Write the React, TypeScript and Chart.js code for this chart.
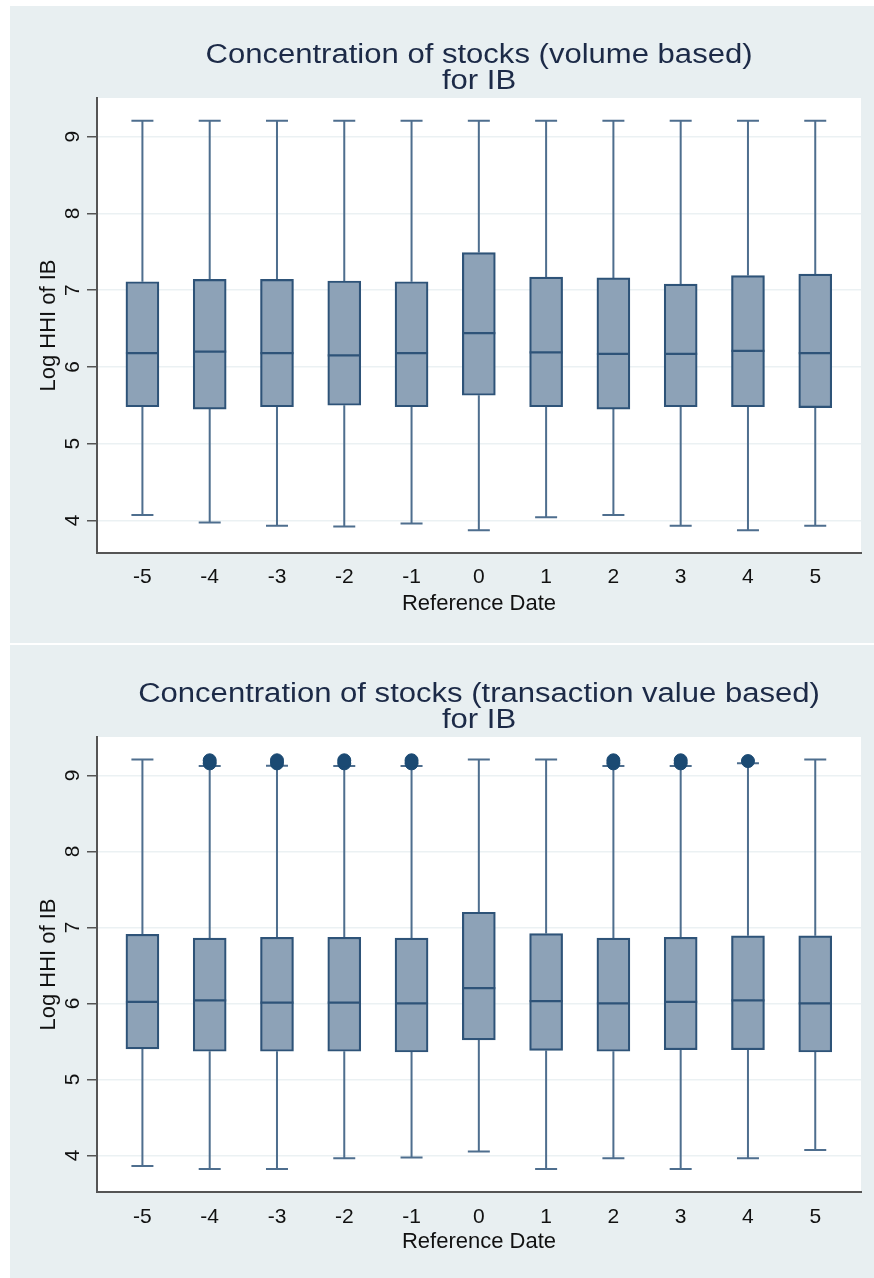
import React, { useEffect, useRef } from "react";
import { Chart, registerables } from "chart.js";

Chart.register(...registerables);
Chart.defaults.font.family = "'Liberation Sans', Arial, sans-serif";

// ---------- data ----------
const CATEGORIES = [-5, -4, -3, -2, -1, 0, 1, 2, 3, 4, 5];
const Y_TICKS = [4, 5, 6, 7, 8, 9];

// Panel 1: volume based
const VOL_TITLE = ["Concentration of stocks (volume based)", "for IB"];
const VOL_LOW = [4.07, 3.97, 3.93, 3.92, 3.96, 3.87, 4.04, 4.07, 3.93, 3.87, 3.93];
const VOL_Q1 = [5.48, 5.45, 5.48, 5.5, 5.48, 5.63, 5.48, 5.45, 5.48, 5.48, 5.47];
const VOL_MEDIAN = [6.18, 6.2, 6.18, 6.15, 6.18, 6.44, 6.19, 6.17, 6.17, 6.21, 6.18];
const VOL_Q3 = [7.11, 7.14, 7.14, 7.12, 7.11, 7.49, 7.17, 7.16, 7.08, 7.19, 7.21];
const VOL_HIGH = [9.21, 9.21, 9.21, 9.21, 9.21, 9.21, 9.21, 9.21, 9.21, 9.21, 9.21];
const VOL_OUTLIER_X: number[] = [];
const VOL_OUTLIER_Y: number[] = [];

// Panel 2: transaction value based
const VAL_TITLE = ["Concentration of stocks (transaction value based)", "for IB"];
const VAL_LOW = [3.86, 3.82, 3.82, 3.96, 3.97, 4.05, 3.82, 3.96, 3.82, 3.96, 4.07];
const VAL_Q1 = [5.4, 5.37, 5.37, 5.37, 5.36, 5.52, 5.38, 5.37, 5.39, 5.39, 5.36];
const VAL_MEDIAN = [6.02, 6.04, 6.01, 6.01, 6.0, 6.2, 6.03, 6.0, 6.02, 6.04, 6.0];
const VAL_Q3 = [6.91, 6.86, 6.87, 6.87, 6.86, 7.2, 6.92, 6.86, 6.87, 6.89, 6.89];
const VAL_HIGH = [9.21, 9.125, 9.13, 9.125, 9.125, 9.21, 9.21, 9.125, 9.125, 9.16, 9.21];
const VAL_OUTLIER_X = [-4, -4, -3, -3, -2, -2, -1, -1, 2, 2, 3, 3, 4];
const VAL_OUTLIER_Y = [9.16, 9.2, 9.16, 9.2, 9.16, 9.2, 9.16, 9.2, 9.16, 9.2, 9.16, 9.2, 9.19];

const X_TITLE = "Reference Date";
const Y_TITLE = "Log HHI of IB";

// ---------- styles ----------
const PANEL_BG = "#e8eff1";
const PLOT_BG = "#ffffff";
const BOX_FILL = "#8da2b7";
const BOX_EDGE = "#2e5378";
const WHISKER = "#4e6e8e";
const OUTLIER = "#1b4a73";
const GRID = "#ebf1f3";
const AXIS = "#555555";
const TITLE_COLOR = "#1c2a47";
const TEXT = "#111111";

type Spec = {
  left: number;
  top: number;
  width: number;
  height: number;
  title: string[];
  low: number[];
  q1: number[];
  median: number[];
  q3: number[];
  high: number[];
  outX: number[];
  outY: number[];
  yMin: number;
  yMax: number;
  xTickPad: number;
  xTitlePad: number;
};

const PANELS: Spec[] = [
  {
    left: 10, top: 6, width: 864, height: 637,
    title: VOL_TITLE, low: VOL_LOW, q1: VOL_Q1, median: VOL_MEDIAN, q3: VOL_Q3, high: VOL_HIGH,
    outX: VOL_OUTLIER_X, outY: VOL_OUTLIER_Y,
    yMin: 3.574, yMax: 9.505, xTickPad: 12, xTitlePad: 26,
  },
  {
    left: 10, top: 645, width: 864, height: 633,
    title: VAL_TITLE, low: VAL_LOW, q1: VAL_Q1, median: VAL_MEDIAN, q3: VAL_Q3, high: VAL_HIGH,
    outX: VAL_OUTLIER_X, outY: VAL_OUTLIER_Y,
    yMin: 3.517, yMax: 9.507, xTickPad: 13, xTitlePad: 22.5,
  },
];

function BoxPanel({ spec }: { spec: Spec }) {
  const ref = useRef<HTMLCanvasElement>(null);

  useEffect(() => {
    const canvas = ref.current;
    if (!canvas) return;

    const boxPlugin = {
      id: "boxPlotParts",
      beforeDraw(chart: any) {
        const { ctx, chartArea } = chart;
        ctx.save();
        ctx.fillStyle = PANEL_BG;
        ctx.fillRect(0, 0, chart.width, chart.height);
        ctx.fillStyle = PLOT_BG;
        ctx.fillRect(chartArea.left, chartArea.top, chartArea.right - chartArea.left, chartArea.bottom - chartArea.top);
        ctx.restore();
      },
      beforeDatasetsDraw(chart: any) {
        const { ctx } = chart;
        const xs = chart.scales.x;
        const ys = chart.scales.y;
        ctx.save();
        ctx.strokeStyle = WHISKER;
        ctx.lineWidth = 2;
        CATEGORIES.forEach((c, i) => {
          const px = xs.getPixelForValue(c);
          const yHi = ys.getPixelForValue(spec.high[i]);
          const yLo = ys.getPixelForValue(spec.low[i]);
          const yQ1 = ys.getPixelForValue(spec.q1[i]);
          const yQ3 = ys.getPixelForValue(spec.q3[i]);
          ctx.beginPath();
          ctx.moveTo(px, yQ3);
          ctx.lineTo(px, yHi);
          ctx.moveTo(px, yQ1);
          ctx.lineTo(px, yLo);
          ctx.moveTo(px - 11, yHi);
          ctx.lineTo(px + 11, yHi);
          ctx.moveTo(px - 11, yLo);
          ctx.lineTo(px + 11, yLo);
          ctx.stroke();
        });
        ctx.restore();
      },
      afterDatasetsDraw(chart: any) {
        const { ctx } = chart;
        const xs = chart.scales.x;
        const ys = chart.scales.y;
        ctx.save();
        ctx.strokeStyle = BOX_EDGE;
        ctx.lineWidth = 2.2;
        CATEGORIES.forEach((c, i) => {
          const px = xs.getPixelForValue(c);
          const ym = ys.getPixelForValue(spec.median[i]);
          ctx.beginPath();
          ctx.moveTo(px - 16.5, ym);
          ctx.lineTo(px + 16.5, ym);
          ctx.stroke();
        });
        ctx.restore();
      },
      afterDraw(chart: any) {
        const { ctx, chartArea } = chart;
        const cx = (chartArea.left + chartArea.right) / 2;
        const baselines = [57, 83];
        ctx.save();
        ctx.font = "27px 'Liberation Sans', Arial, sans-serif";
        ctx.fillStyle = TITLE_COLOR;
        ctx.textAlign = "center";
        ctx.textBaseline = "alphabetic";
        spec.title.forEach((line, k) => {
          ctx.save();
          ctx.translate(cx, baselines[k]);
          ctx.scale(1.15, 1);
          ctx.fillText(line, 0, 0);
          ctx.restore();
        });
        ctx.restore();
      },
    };

    const chart = new Chart(canvas, {
      type: "bar",
      data: {
        datasets: [
          {
            type: "bar",
            data: CATEGORIES.map((c, i) => ({ x: c, y: [spec.q1[i], spec.q3[i]] })) as any,
            backgroundColor: BOX_FILL,
            borderColor: BOX_EDGE,
            borderWidth: 2.2,
            borderSkipped: false,
            barThickness: 33,
          } as any,
          {
            type: "scatter",
            data: spec.outX.map((x, i) => ({ x, y: spec.outY[i] })),
            pointRadius: 6.5,
            pointBackgroundColor: OUTLIER,
            pointBorderColor: OUTLIER,
            pointBorderWidth: 1,
          } as any,
        ],
      },
      options: {
        responsive: false,
        animation: false,
        devicePixelRatio: 1,
        events: [],
        layout: { autoPadding: false, padding: { left: 0, right: 13, top: 92, bottom: 0 } },
        plugins: { legend: { display: false }, tooltip: { enabled: false }, title: { display: false } },
        scales: {
          x: {
            type: "linear",
            min: -5.675,
            max: 5.68,
            offset: false,
            afterBuildTicks: (s: any) => {
              s.ticks = CATEGORIES.map((v) => ({ value: v }));
            },
            afterFit: (s: any) => {
              s.height = spec.height - 547;
            },
            grid: { display: false, drawTicks: false },
            border: { display: true, color: AXIS, width: 2 },
            ticks: {
              autoSkip: false,
              maxRotation: 0,
              minRotation: 0,
              padding: spec.xTickPad,
              color: TEXT,
              font: { size: 21 },
              callback: (v: any) => String(v),
            },
            title: {
              display: true,
              text: X_TITLE,
              color: TEXT,
              font: { size: 22 },
              padding: { top: 0, bottom: spec.xTitlePad },
            },
          } as any,
          y: {
            type: "linear",
            min: spec.yMin,
            max: spec.yMax,
            afterBuildTicks: (s: any) => {
              s.ticks = Y_TICKS.map((v) => ({ value: v }));
            },
            afterFit: (s: any) => {
              s.width = 87;
            },
            grid: {
              color: GRID,
              lineWidth: 1.5,
              drawTicks: true,
              tickLength: 10,
              tickColor: AXIS,
              tickWidth: 1.5,
            },
            border: { display: true, color: AXIS, width: 2 },
            ticks: {
              minRotation: 90,
              maxRotation: 90,
              crossAlign: "center",
              padding: 8,
              color: TEXT,
              font: { size: 21 },
              callback: (v: any) => String(v),
            },
            title: {
              display: true,
              text: Y_TITLE,
              color: TEXT,
              font: { size: 22 },
              padding: { top: 26, bottom: 0 },
            },
          } as any,
        },
      },
      plugins: [boxPlugin],
    });

    return () => chart.destroy();
  }, [spec]);

  return (
    <canvas
      ref={ref}
      width={spec.width}
      height={spec.height}
      style={{ position: "absolute", left: spec.left, top: spec.top, width: spec.width, height: spec.height, display: "block" }}
    />
  );
}

export default function App() {
  return (
    <div
      style={{
        position: "fixed",
        left: 0,
        top: 0,
        width: 874,
        height: 1278,
        overflow: "hidden",
        background: "#ffffff",
      }}
    >
      {PANELS.map((p, i) => (
        <BoxPanel key={i} spec={p} />
      ))}
    </div>
  );
}
